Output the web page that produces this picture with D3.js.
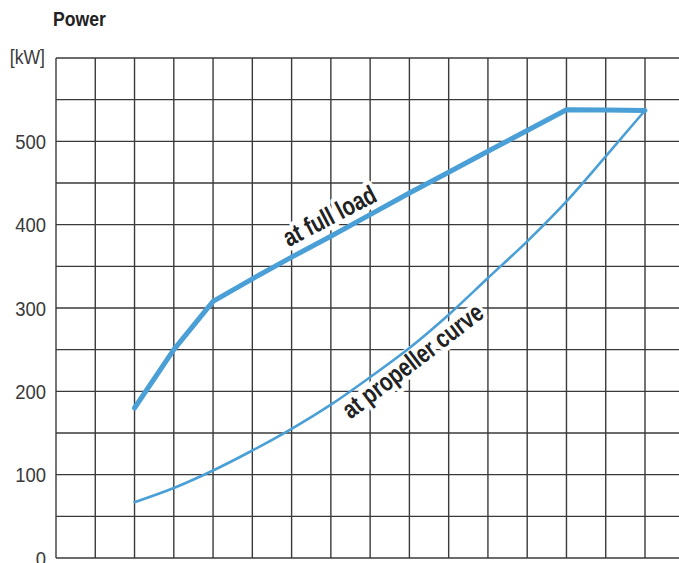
<!DOCTYPE html>
<html>
<head>
<meta charset="utf-8">
<script src="https://cdn.jsdelivr.net/npm/d3@7/dist/d3.min.js"></script>
<style>
  html, body { margin: 0; padding: 0; background: #fff; }
  svg { display: block; }
  text { font-family: "Liberation Sans", Arial, sans-serif; }
</style>
</head>
<body>
<svg id="chart" width="679" height="563"></svg>
<script>
// ---- data ----
const columns = d3.range(0, 16);            // vertical grid columns (speed steps)
const yTicks = [0, 100, 200, 300, 400, 500]; // labelled power ticks
const yGrid = d3.range(0, 601, 50);          // horizontal grid lines
const fullLoadX = [2, 3, 4, 5, 6, 7, 8, 9, 10, 11, 12, 13, 14, 15];
const fullLoadY = [180, 250, 308, 335, 361, 386, 412, 438, 463, 488, 513, 538, 537.5, 537];
const propX = [2, 3, 4, 5, 6, 7, 8, 9, 10, 11, 12, 13, 14, 15];
const propY = [67, 84, 105, 129, 155, 184, 217, 252, 292, 336, 380, 428, 482, 537];
const labels = [
  { text: "at full load", x: 7.07, y: 401, angle: -27.5 },
  { text: "at propeller curve", x: 9.22, y: 228, angle: -37.5 }
];
const title = "Power";
const unit = "[kW]";

// ---- drawing ----
const svg = d3.select("#chart");
const W = 679, H = 563;
const x = d3.scaleLinear().domain([0, 15]).range([56, 645]);
const y = d3.scaleLinear().domain([0, 600]).range([558, 58]);
const gridColor = "#3a3a3a";
const blue = "#4a9fd6";

const grid = svg.append("g");
grid.selectAll("line.h").data(yGrid).join("line")
  .attr("class", "h")
  .attr("x1", x(0)).attr("x2", W)
  .attr("y1", d => y(d)).attr("y2", d => y(d))
  .attr("stroke", gridColor).attr("stroke-width", 1.4);
grid.selectAll("line.v").data(columns).join("line")
  .attr("class", "v")
  .attr("x1", d => x(d)).attr("x2", d => x(d))
  .attr("y1", y(600)).attr("y2", y(0))
  .attr("stroke", gridColor).attr("stroke-width", 1.4);

// y tick labels
svg.append("g").selectAll("text").data(yTicks).join("text")
  .attr("transform", d => `translate(46,${y(d)}) scale(0.88,1)`)
  .attr("dy", "0.36em")
  .attr("text-anchor", "end")
  .attr("font-size", 21)
  .attr("fill", "#3a3a3a")
  .text(d => d);

svg.append("text").attr("transform", `translate(45,64) scale(0.84,1)`)
  .attr("text-anchor", "end").attr("font-size", 21).attr("fill", "#3a3a3a")
  .text(unit);
svg.append("text").attr("transform", `translate(53,26) scale(0.84,1)`)
  .attr("font-size", 21).attr("font-weight", "bold").attr("fill", "#222")
  .text(title);

// annotation labels with white halo (breaks the grid lines)
svg.append("g").selectAll("text").data(labels).join("text")
  .attr("transform", d => `translate(${x(d.x)},${y(d.y)}) rotate(${d.angle}) scale(0.78,1)`)
  .attr("text-anchor", "middle")
  .attr("font-size", 26).attr("font-weight", "bold")
  .attr("fill", "#222")
  .attr("stroke", "#fff").attr("stroke-width", 9).attr("stroke-linejoin", "round")
  .attr("paint-order", "stroke")
  .text(d => d.text);

// curves
const fullData = fullLoadX.map((v, i) => [v, fullLoadY[i]]);
const propData = propX.map((v, i) => [v, propY[i]]);

svg.append("path").datum(propData)
  .attr("fill", "none").attr("stroke", blue).attr("stroke-width", 2.6)
  .attr("stroke-linecap", "round")
  .attr("d", d3.line().x(d => x(d[0])).y(d => y(d[1])).curve(d3.curveMonotoneX));

svg.append("path").datum(fullData)
  .attr("fill", "none").attr("stroke", blue).attr("stroke-width", 5)
  .attr("stroke-linecap", "round").attr("stroke-linejoin", "round")
  .attr("d", d3.line().x(d => x(d[0])).y(d => y(d[1])));
</script>
</body>
</html>
